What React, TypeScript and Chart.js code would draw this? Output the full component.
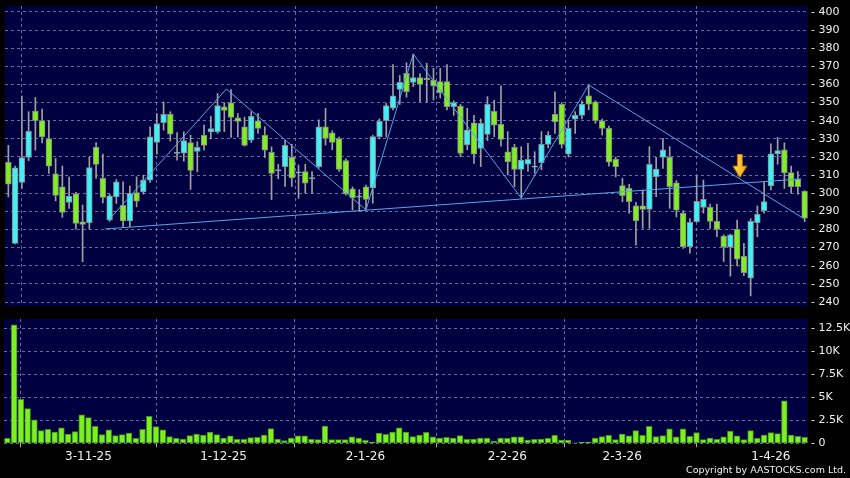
import React, { useEffect, useRef } from 'react';
import { Chart, registerables } from 'chart.js';

Chart.register(...registerables);

// ---------- data ----------
const categories = [
  '15-10-25','16-10-25','17-10-25','20-10-25','21-10-25','22-10-25','23-10-25','24-10-25','27-10-25','28-10-25','30-10-25','31-10-25',
  '3-11-25','4-11-25','5-11-25','6-11-25','7-11-25','10-11-25','11-11-25','12-11-25','13-11-25','14-11-25','17-11-25','18-11-25','19-11-25','20-11-25','21-11-25','24-11-25','25-11-25','26-11-25','27-11-25','28-11-25',
  '1-12-25','2-12-25','3-12-25','4-12-25','5-12-25','8-12-25','9-12-25','10-12-25','11-12-25','12-12-25','15-12-25','16-12-25','17-12-25','18-12-25','19-12-25','22-12-25','23-12-25','24-12-25','29-12-25','30-12-25','31-12-25',
  '2-1-26','5-1-26','6-1-26','7-1-26','8-1-26','9-1-26','12-1-26','13-1-26','14-1-26','15-1-26','16-1-26','19-1-26','20-1-26','21-1-26','22-1-26','23-1-26','26-1-26','27-1-26','28-1-26','29-1-26','30-1-26',
  '2-2-26','3-2-26','4-2-26','5-2-26','6-2-26','9-2-26','10-2-26','11-2-26','12-2-26','13-2-26','16-2-26','20-2-26','23-2-26','24-2-26','25-2-26','26-2-26','27-2-26',
  '2-3-26','3-3-26','4-3-26','5-3-26','6-3-26','9-3-26','10-3-26','11-3-26','12-3-26','13-3-26','16-3-26','17-3-26','18-3-26','19-3-26','20-3-26','23-3-26','24-3-26','25-3-26','26-3-26','27-3-26','30-3-26','31-3-26',
  '1-4-26','2-4-26','8-4-26','9-4-26','10-4-26','13-4-26'
];

const tickLabels = ['3-11-25', '1-12-25', '2-1-26', '2-2-26', '2-3-26', '1-4-26'];

const opens = [
  317, 272.3, 306, 319.7, 345.3, 340.1, 330.2, 310.7, 303.6, 294.9,
  299.7, 284.3, 283.7, 325.3, 308.2, 285.2, 298, 293.3, 284.8, 300.4,
  300.8, 307.2, 328, 338.9, 343.5, 322.0, 322.1, 328, 323.1, 331.9,
  333.9, 333.9, 347.7, 349.9, 341.6, 336.7, 329.3, 340, 331.9, 322.6,
  312.4, 314.7, 319.8, 311.2, 311.9, 308, 314.7, 336.7, 333.4, 330.1,
  318, 302.5, 297.8, 303.6, 302.9, 331.2, 340, 346.9, 357.3, 366.2,
  361.2, 363.8, 363.5, 362.5, 361.6, 361.6, 347.8, 348.1, 326.6, 338.9,
  324.8, 332.5, 345.2, 338, 322.9, 325.3, 313.2, 316.1, 314.4, 316.9,
  327, 343.5, 349.1, 321.5, 340.8, 343, 353.7, 350.5, 339.9, 335.8,
  318.7, 304.2, 302.7, 293.1, 293.1, 291.1, 309.1, 319.8, 319.8, 305.8,
  288.9, 270.5, 284.3, 292.2, 292.2, 284.5, 276.4, 270.2, 280.1, 265.2,
  253.1, 283.8, 290.4, 304, 321.7, 324, 311.4, 307.8, 301
];
const highs = [
  326.4, 315, 353.6, 345, 352.8, 346.4, 340, 319.2, 315, 308.9,
  300.5, 293.5, 320.1, 328, 321.6, 299.5, 307.6, 306.3, 303.9, 309.1,
  310, 336.7, 344, 350.4, 345, 333.5, 333.9, 332, 328.4, 337.6,
  342.5, 355, 350, 357.2, 344, 342, 345, 344, 336.7, 325.6,
  316, 329.4, 327, 315.6, 316, 312, 340.5, 346.9, 334.5, 331,
  319, 303.5, 302, 304.5, 332, 341, 349.6, 371, 365, 372,
  376.8, 366, 371.7, 368.9, 368.9, 371, 351, 349, 346.9, 343,
  341, 353.3, 351.4, 359.2, 334, 327, 325.7, 327.5, 322.9, 334,
  334, 356, 350, 340.4, 345, 351, 359.5, 351, 341, 337,
  320, 308.2, 305, 295, 301.8, 325.7, 319.8, 330.3, 325.7, 307,
  290.5, 286, 309.7, 307.3, 294, 294, 277, 277.5, 285.2, 272.4,
  286, 293, 306.4, 327.2, 330.8, 327.8, 315, 311.9, 301.5
];
const lows = [
  298, 272, 302.6, 318, 323.8, 327.8, 310.9, 295.8, 286.7, 291.6,
  280.2, 262.2, 280.2, 308.2, 294.7, 284.5, 294.4, 281.5, 281.5, 292.5,
  299.5, 306, 321.6, 334.8, 328.8, 318.3, 317.7, 302.1, 311.8, 323.8,
  330, 333, 334, 330.8, 331, 326, 328, 333, 319.7, 296.5,
  308, 303.8, 303.8, 297.2, 300, 300, 313.8, 326.6, 324, 312,
  299, 290.8, 290, 290.8, 294.5, 330, 331, 346, 349, 353,
  358.8, 350.5, 350.5, 351.4, 352.5, 346, 343, 320.2, 324, 316.5,
  314.7, 329, 331.2, 326, 310.1, 303.6, 297.4, 312, 311, 313,
  325, 333, 325, 320, 333, 341, 346, 338.6, 332.1, 315,
  309, 295.4, 288.9, 271.4, 280.6, 280.6, 298.1, 313.7, 291.7, 287,
  269.5, 267, 284, 289, 280.6, 276, 262.3, 254.3, 259.9, 254.5,
  243.4, 276, 289, 301.8, 316, 302.7, 300, 299.5, 284.3
];
const closes = [
  305, 314, 319.7, 334.1, 340.1, 331.1, 315, 298.8, 289.4, 298.4,
  283.3, 282.8, 314.2, 315.9, 297.7, 298.6, 306.3, 284.8, 299.9, 295.7,
  307.2, 331.1, 338.5, 343.5, 332.6, 322.6, 329.1, 312.6, 325.3, 326.4,
  335.7, 348.4, 345.7, 341.8, 339.6, 326.4, 342.5, 335.7, 323.8, 311,
  313, 326.4, 308.4, 311.8, 305.5, 308.6, 336.7, 330.3, 328.1, 313.2,
  299.6, 297.4, 298.4, 296.6, 331.2, 339.7, 348.3, 353.7, 361.2, 356.1,
  363.8, 360.1, 362.6, 359.2, 355.5, 347.8, 350, 322, 334.9, 321.5,
  338.6, 349.1, 337.5, 329.7, 317.4, 313.2, 318.3, 318.7, 315, 327,
  332.1, 339.5, 327, 335.8, 343, 349.2, 349.2, 340, 335.8, 317.1,
  314.7, 298.7, 295.4, 284.9, 291.1, 316, 313.4, 323.9, 303.6, 290.6,
  270.5, 284, 295.6, 296.6, 284.5, 280.1, 270.2, 277.1, 263.6, 256.2,
  284.5, 288.4, 295.4, 321.7, 323.5, 311.2, 303.6, 303.6, 286.2
];
const volumes = [
  540, 12860, 4780, 3770, 2540, 1380, 1520, 1230, 1670, 1010,
  1270, 3080, 2790, 1850, 940, 1450, 830, 940, 1120, 540,
  1520, 2930, 1810, 1450, 720, 540, 470, 830, 1010, 900,
  1230, 940, 580, 800, 430, 430, 620, 650, 900, 1590,
  470, 290, 580, 800, 800, 430, 400, 1880, 400, 400,
  400, 690, 580, 330, 140, 1120, 980, 1230, 1670, 1230,
  720, 900, 1200, 690, 580, 650, 580, 830, 430, 470,
  580, 580, 250, 580, 540, 690, 690, 360, 430, 470,
  540, 870, 360, 360, 20, 140, 140, 580, 720, 870,
  400, 1010, 800, 1380, 870, 1850, 720, 830, 1560, 690,
  1560, 760, 1160, 400, 580, 430, 690, 1340, 800, 400,
  1380, 540, 900, 1160, 1050, 4600, 900, 760, 650
];

const priceTicks = [240, 250, 260, 270, 280, 290, 300, 310, 320, 330, 340, 350, 360, 370, 380, 390, 400];
const volumeTicks = [0, 2500, 5000, 7500, 10000, 12500];

// pattern lines (bar index, price)
const zigzagX = [15, 32.3, 53, 60, 76, 86, 117.8];
const zigzagY = [285.8, 357.5, 290.8, 376.8, 297.4, 359.7, 286.2];
const supportX = [14.3, 117.5];
const supportY = [280.3, 307.9];
const arrowX = [108.4];
const arrowY = [315];

// ---------- styles ----------
const NAVY = '#000040';
const GRID = 'rgba(140,140,200,0.75)';
const UP = '#3ff0f6';
const DOWN = '#80ee22';
const WICK = '#a0a0a0';
const LINE = '#52a8e6';
const TEXT = '#f0f0f0';
const FONT = 'DejaVu Sans';

const N = categories.length;
const tickIdx = tickLabels.map((l) => categories.indexOf(l));

const bgPlugin = {
  id: 'navyBg',
  beforeDraw(chart: any) {
    const { ctx, chartArea } = chart;
    ctx.save();
    ctx.fillStyle = NAVY;
    ctx.fillRect(chartArea.left, chartArea.top, chartArea.width, chartArea.height);
    ctx.restore();
  },
};

function makeArrow(): HTMLCanvasElement {
  const c = document.createElement('canvas');
  c.width = 16;
  c.height = 25;
  const g = c.getContext('2d')!;
  const grad = g.createLinearGradient(0, 0, 16, 0);
  grad.addColorStop(0, '#ffe45a');
  grad.addColorStop(1, '#ffa200');
  g.fillStyle = grad;
  g.strokeStyle = '#b86a00';
  g.lineWidth = 1;
  g.beginPath();
  g.moveTo(5.5, 0.5);
  g.lineTo(10.5, 0.5);
  g.lineTo(10.5, 12.5);
  g.lineTo(15, 12.5);
  g.lineTo(8, 24);
  g.lineTo(1, 12.5);
  g.lineTo(5.5, 12.5);
  g.closePath();
  g.fill();
  g.stroke();
  return c;
}

export default function App() {
  const priceRef = useRef<HTMLCanvasElement>(null);
  const volRef = useRef<HTMLCanvasElement>(null);

  useEffect(() => {
    const idx = categories.map((_, i) => i);
    const xCommon = {
      type: 'linear' as const,
      min: -0.5,
      max: N - 0.5,
      offset: false,
      afterBuildTicks: (s: any) => {
        s.ticks = tickIdx.map((v) => ({ value: v }));
      },
    };

    const price = new Chart(priceRef.current!, {
      type: 'bar',
      data: {
        datasets: [
          {
            type: 'scatter' as any,
            data: arrowX.map((x, k) => ({ x, y: arrowY[k] })),
            pointStyle: makeArrow() as any,
            order: 0,
          } as any,
          {
            type: 'line' as any,
            data: zigzagX.map((x, k) => ({ x, y: zigzagY[k] })),
            borderColor: LINE,
            borderWidth: 1,
            pointRadius: 0,
            tension: 0,
            order: 1,
          } as any,
          {
            type: 'line' as any,
            data: supportX.map((x, k) => ({ x, y: supportY[k] })),
            borderColor: LINE,
            borderWidth: 1,
            pointRadius: 0,
            tension: 0,
            order: 1,
          } as any,
          {
            data: idx.map((i) => ({ x: i, y: [opens[i], closes[i]] })) as any,
            backgroundColor: idx.map((i) => (closes[i] >= opens[i] ? UP : DOWN)),
            borderColor: '#8a8a8a',
            borderWidth: 1,
            borderSkipped: false,
            grouped: false,
            barThickness: 5.8,
            order: 2,
          },
          {
            data: idx.map((i) => ({ x: i, y: [lows[i], highs[i]] })) as any,
            backgroundColor: WICK,
            barThickness: 1,
            grouped: false,
            order: 3,
          },
        ],
      },
      options: {
        animation: false,
        responsive: false,
        maintainAspectRatio: false,
        layout: { padding: { left: 4, top: 6, right: 0, bottom: 6 } },
        plugins: { legend: { display: false }, tooltip: { enabled: false } },
        scales: {
          x: {
            ...xCommon,
            ticks: { display: false },
            grid: { color: GRID, drawTicks: false },
            border: { display: false, dash: [3, 3] },
            afterFit: (s: any) => {
              s.height = 0;
              s.paddingLeft = 0;
              s.paddingRight = 0;
            },
          } as any,
          y: {
            position: 'right',
            min: 237.8,
            max: 403.3,
            afterBuildTicks: (s: any) => {
              s.ticks = priceTicks.map((v) => ({ value: v }));
            },
            ticks: {
              color: TEXT,
              font: { family: FONT, size: 11 },
              padding: 3,
              callback: (v: any) => '- ' + v,
            },
            grid: { color: GRID, drawTicks: false },
            border: { display: false, dash: [3, 3] },
            afterFit: (s: any) => {
              s.width = 42;
              s.paddingTop = 0;
              s.paddingBottom = 0;
            },
          } as any,
        },
      },
      plugins: [bgPlugin],
    });

    const vol = new Chart(volRef.current!, {
      type: 'bar',
      data: {
        datasets: [
          {
            data: idx.map((i) => ({ x: i, y: volumes[i] })) as any,
            backgroundColor: '#7df024',
            borderColor: '#3f8f16',
            borderWidth: 1,
            borderSkipped: false,
            barThickness: 5.8,
          },
        ],
      },
      options: {
        animation: false,
        responsive: false,
        maintainAspectRatio: false,
        layout: { padding: { left: 4, top: 7, right: 0, bottom: 12.7 } },
        plugins: { legend: { display: false }, tooltip: { enabled: false } },
        scales: {
          x: {
            ...xCommon,
            ticks: {
              color: TEXT,
              font: { family: FONT, size: 12 },
              padding: 2,
              maxRotation: 0,
              autoSkip: false,
              callback: (v: any) => categories[v as number],
            },
            grid: { color: GRID, drawTicks: true, tickLength: 4, tickColor: '#b0b0b0', tickBorderDash: [] },
            border: { display: false, dash: [3, 3] },
            afterFit: (s: any) => {
              s.height = 22;
              s.paddingLeft = 0;
              s.paddingRight = 0;
            },
          } as any,
          y: {
            position: 'right',
            min: 0,
            max: 13500,
            afterBuildTicks: (s: any) => {
              s.ticks = volumeTicks.map((v) => ({ value: v }));
            },
            ticks: {
              color: TEXT,
              font: { family: FONT, size: 11 },
              padding: 3,
              callback: (v: any) => '- ' + (v === 0 ? '0' : v / 1000 + 'K'),
            },
            grid: { color: GRID, drawTicks: false },
            border: { display: false, dash: [3, 3] },
            afterFit: (s: any) => {
              s.width = 42;
              s.paddingTop = 0;
              s.paddingBottom = 0;
            },
          } as any,
        },
      },
      plugins: [bgPlugin],
    });

    return () => {
      price.destroy();
      vol.destroy();
    };
  }, []);

  return (
    <div style={{ position: 'absolute', left: 0, top: 0, width: 850, height: 478, background: '#000', overflow: 'hidden' }}>
      <canvas ref={priceRef} width={850} height={312} style={{ position: 'absolute', left: 0, top: 0, width: 850, height: 312 }} />
      <canvas ref={volRef} width={850} height={166} style={{ position: 'absolute', left: 0, top: 312, width: 850, height: 166 }} />
      <div
        style={{
          position: 'absolute',
          right: 4,
          top: 464,
          color: TEXT,
          fontFamily: FONT,
          fontSize: 9.5,
          lineHeight: '12px',
          whiteSpace: 'nowrap',
        }}
      >
        Copyright by AASTOCKS.com Ltd.
      </div>
    </div>
  );
}
